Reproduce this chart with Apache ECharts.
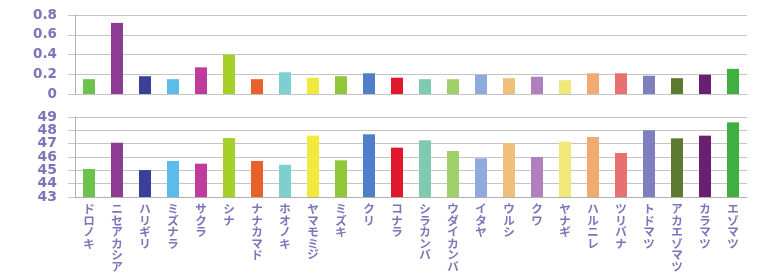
<!DOCTYPE html>
<html>
<head>
<meta charset="utf-8">
<script src="https://cdn.jsdelivr.net/npm/echarts@6/dist/echarts.min.js"></script>
<style>html,body{margin:0;padding:0;background:#fff;}#c{width:777px;height:280px;}</style>
</head>
<body>
<div id="c"></div>
<script>
const categories = ['ドロノキ','ニセアカシア','ハリギリ','ミズナラ','サクラ','シナ','ナナカマド','ホオノキ','ヤマモミジ','ミズキ','クリ','コナラ','シラカンバ','ウダイカンバ','イタヤ','ウルシ','クワ','ヤナギ','ハルニレ','ツリバナ','トドマツ','アカエゾマツ','カラマツ','エゾマツ'];
const topValues = [0.15,0.72,0.18,0.15,0.27,0.40,0.15,0.22,0.165,0.18,0.21,0.165,0.15,0.15,0.195,0.16,0.175,0.14,0.21,0.21,0.185,0.16,0.195,0.255];
const bottomValues = [45.1,47.07,45.02,45.7,45.5,47.42,45.7,45.42,47.6,45.75,47.7,46.7,47.25,46.45,45.9,47.05,46.0,47.15,47.5,46.3,48.0,47.4,47.6,48.6];
const topTicks = [0,0.2,0.4,0.6,0.8];
const bottomTicks = [43,44,45,46,47,48,49];
const palette = ['#6cc24a','#8e3b96','#3b3f9a','#5bbcec','#bf3b9c','#a6cf2a','#e8612a','#7ecfcf','#f1ea3c','#8fc63a','#4f7fc8','#e0182c','#7fcbb0','#9fd06a','#8faadc','#f0c07a','#b07fc0','#f1e87a','#f0ac70','#e87070','#7f7fc0','#5e7a2e','#6a1f70','#3fb040'];

const labelColor = '#7a76b8';
const gridColor = '#c4c4c4';
const bMin = bottomTicks[0], bMax = bottomTicks[bottomTicks.length-1];

const chart = echarts.init(document.getElementById('c'), null, {renderer:'canvas'});
const yCommon = {
  type:'value',
  axisLine:{show:true, lineStyle:{color:'#b0b0b0', width:1}},
  axisTick:{show:true, length:7, inside:false, lineStyle:{color:gridColor}},
  splitLine:{show:true, lineStyle:{color:gridColor, width:1}},
};
const bLabel = {margin:18, showMinLabel:true, showMaxLabel:true, hideOverlap:false,
  color:labelColor, fontFamily:'DejaVu Sans', fontWeight:'bold', fontSize:14};
chart.setOption({
  animation:false,
  grid:[
    {left:75, width:672, top:15, height:79},
    {left:75, width:672, top:117, height:80}
  ],
  xAxis:[
    {type:'category', gridIndex:0, data:categories, axisLabel:{show:false}, axisTick:{show:false}, axisLine:{show:true, lineStyle:{color:gridColor}}},
    {type:'category', gridIndex:1, data:categories, axisTick:{show:false},
     axisLine:{show:true, lineStyle:{color:'#b0b0b0'}},
     axisLabel:{interval:0, margin:6, color:labelColor, fontFamily:'Noto Sans CJK JP', fontWeight:'bold', fontSize:11.5, lineHeight:11.5, verticalAlign:'top',
       formatter:v=>v.split('').join('\n')}}
  ],
  yAxis:[
    Object.assign({}, yCommon, {gridIndex:0, min:topTicks[0], max:topTicks[topTicks.length-1], interval:0.2,
      axisLabel:{margin:18, color:labelColor, fontFamily:'DejaVu Sans', fontWeight:'bold', fontSize:13.5, showMinLabel:true, showMaxLabel:true, hideOverlap:false}}),
    Object.assign({}, yCommon, {gridIndex:1, position:'left', min:bMin, max:bMax, interval:1,
      axisLabel:Object.assign({}, bLabel, {formatter:v=>((v-bMin)%2===0?String(v):'')})}),
    {type:'value', gridIndex:1, position:'left', offset:0, min:bMin, max:bMax, interval:1,
      axisLine:{show:false}, axisTick:{show:false}, splitLine:{show:false},
      axisLabel:Object.assign({}, bLabel, {formatter:v=>((v-bMin)%2===1?String(v):'')})}
  ],
  series:[
    {type:'bar', xAxisIndex:0, yAxisIndex:0, barWidth:12, data:topValues.map((v,i)=>({value:v, itemStyle:{color:palette[i]}}))},
    {type:'bar', xAxisIndex:1, yAxisIndex:1, barWidth:12, data:bottomValues.map((v,i)=>({value:v, itemStyle:{color:palette[i]}}))}
  ]
});
</script>
</body>
</html>
